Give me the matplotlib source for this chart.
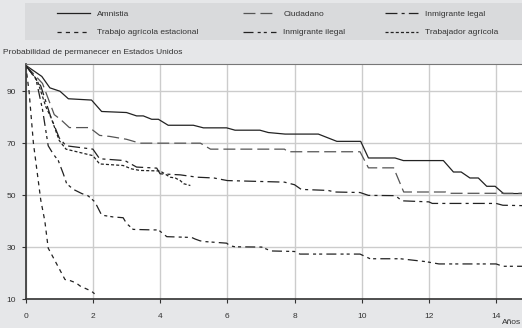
import numpy as np
import matplotlib
matplotlib.use('Agg')
from matplotlib import pyplot as plt
from matplotlib.patches import Rectangle

plt.rcParams['font.family'] = ['Liberation Sans', 'DejaVu Sans']
plt.rcParams['lines.scale_dashes'] = False

# datos (años, probabilidad %)
amn_x = [0, 0.48, 0.72, 1.02, 1.27, 1.96, 2.26, 3.0, 3.3, 3.5, 3.75, 3.95, 4.24, 4.99, 5.29, 5.98, 6.23, 6.97, 7.22, 7.72, 8.71, 9.26, 9.97, 10.2, 10.99, 11.24, 12.43, 12.73, 12.96, 13.22, 13.47, 13.72, 13.97, 14.22, 15]
amn_y = [100, 95.7, 91.3, 90, 87.1, 86.6, 82.2, 81.8, 80.5, 80.5, 79.2, 79.2, 76.9, 76.9, 75.9, 75.9, 75, 75, 74.1, 73.5, 73.5, 70.7, 70.7, 64.3, 64.3, 63.3, 63.3, 58.9, 58.9, 56.6, 56.6, 53.4, 53.4, 50.6, 50.6]

ciu_x = [0, 0.5, 0.85, 1.05, 1.3, 1.9, 2.2, 2.5, 3.0, 3.4, 5.2, 5.5, 7.7, 7.8, 9.95, 10.2, 10.95, 11.25, 12.5, 12.6, 15]
ciu_y = [100, 93, 81, 79, 76, 76, 73, 72.6, 71.5, 70, 70, 67.7, 67.7, 66.7, 66.7, 60.5, 60.5, 51.2, 51.2, 50.7, 50.7]

leg_x = [0, 0.45, 0.75, 1.0, 1.2, 2.0, 2.2, 2.95, 3.3, 3.9, 4.0, 4.6, 5.1, 5.6, 6.0, 7.7, 8.0, 8.2, 9.0, 9.2, 9.95, 10.2, 11.0, 11.2, 12.0, 12.1, 14.0, 14.2, 15]
leg_y = [100, 92, 80, 72, 69, 67.7, 64, 63.3, 60.8, 60.4, 58.2, 57.8, 56.9, 56.6, 55.6, 55.0, 54, 52.2, 51.8, 51.2, 51.0, 49.9, 49.8, 47.8, 47.4, 46.8, 46.8, 46.1, 45.9]

est_x = [0, 0.1, 0.23, 0.45, 0.57, 0.67, 1.17, 1.3, 1.5, 1.62, 1.96, 2.05]
est_y = [100, 90, 70, 48, 40, 29.6, 17.5, 17.2, 16.2, 15, 13, 12]

ile_x = [0, 0.3, 0.5, 0.67, 0.82, 0.97, 1.12, 1.22, 1.42, 1.67, 1.86, 2.06, 2.26, 2.6, 2.9, 3.0, 3.2, 3.8, 3.95, 4.2, 4.94, 5.04, 5.19, 5.34, 5.98, 6.08, 6.23, 7.02, 7.3, 8.0, 8.16, 9.95, 10.25, 11.15, 11.9, 12.3, 14.0, 14.2, 15]
ile_y = [100, 95, 83, 69, 65.8, 63.3, 58.2, 54.4, 52.2, 50.6, 49.7, 47.4, 42.3, 41.6, 41.3, 39.1, 36.8, 36.6, 36.6, 34, 33.7, 33.1, 32.4, 32.1, 31.5, 30.5, 30.1, 30, 28.5, 28.3, 27.3, 27.3, 25.5, 25.5, 24.4, 23.5, 23.5, 22.6, 22.6]

tra_x = [0, 0.35, 0.6, 0.75, 1.0, 1.2, 2.0, 2.2, 2.9, 3.15, 3.4, 4.0, 4.3, 4.45, 4.6, 4.7, 4.9]
tra_y = [100, 94, 84, 80, 71, 67.7, 65.2, 62, 61.4, 60.1, 59.5, 59.3, 56.9, 56.6, 55.6, 54.4, 53.7]

bg = '#e6e7e9'
txt = '#333333'
fs = 6
fig = plt.figure(figsize=(5.22, 3.28), dpi=100, facecolor=bg)
ax = fig.add_axes([0.0492, 0.0884, 0.9508, 0.7166])
ax.set_facecolor('white')

lw = 0.9
l_amn, = ax.plot(amn_x, amn_y, color='#222222', lw=lw, label='Amnistia')
l_ciu, = ax.plot(ciu_x, ciu_y, color='#555555', lw=lw, dashes=(8.6, 3.6), label='Ciudadano')
l_leg, = ax.plot(leg_x, leg_y, color='#222222', lw=lw, dashes=(8.6, 3, 2.2, 3), label='Inmigrante legal')
l_est, = ax.plot(est_x, est_y, color='#222222', lw=lw, dashes=(3, 3), label='Trabajo agrícola estacional')
l_ile, = ax.plot(ile_x, ile_y, color='#222222', lw=lw, dashes=(7.2, 3, 2.2, 2.2, 2.2, 3), label='Inmigrante ilegal')
l_tra, = ax.plot(tra_x, tra_y, color='#222222', lw=lw, dashes=(2.2, 1.5), label='Trabajador agrícola')

ax.set_xlim(0, 14.77)
ax.set_ylim(10, 100.5)
ax.set_xticks([0, 2, 4, 6, 8, 10, 12, 14])
ax.set_yticks([10, 30, 50, 70, 90])
ax.grid(True, color='#cccccc', lw=1.0)
ax.set_axisbelow(True)
ax.spines['right'].set_visible(False)
ax.spines['top'].set_color('#777777')
ax.spines['left'].set_color(txt)
ax.spines['bottom'].set_color(txt)
ax.spines['left'].set_linewidth(1.2)
ax.spines['bottom'].set_linewidth(1.2)
ax.tick_params(axis='both', length=3, width=0.8, color=txt, labelsize=fs, labelcolor=txt, pad=4)
ax.tick_params(axis='x', pad=7)

fig.text(0.006, 1 - 52 / 328, 'Probabilidad de permanecer en Estados Unidos', fontsize=fs, color=txt, va='center', ha='left')
fig.text(0.998, 1 - 322 / 328, 'Años', fontsize=fs, color=txt, va='center', ha='right')

fig.patches.append(Rectangle((25 / 522, 1 - 40 / 328), 1, 37 / 328, transform=fig.transFigure,
                             facecolor='#d9dadc', edgecolor='none', zorder=0))

# una leyenda por columna
cols = [([l_amn, l_est], 57), ([l_ciu, l_ile], 243), ([l_leg, l_tra], 385)]
for hs, xpx in cols:
    fig.legend(handles=hs, labels=[h.get_label() for h in hs], loc='upper left',
               bbox_to_anchor=(xpx / 522, 1 - 10 / 328), frameon=False, fontsize=fs,
               handlelength=4.0, handletextpad=0.85, labelspacing=1.3, borderpad=0,
               borderaxespad=0, labelcolor=txt)

fig.savefig('out.png', dpi=100, facecolor=bg)
